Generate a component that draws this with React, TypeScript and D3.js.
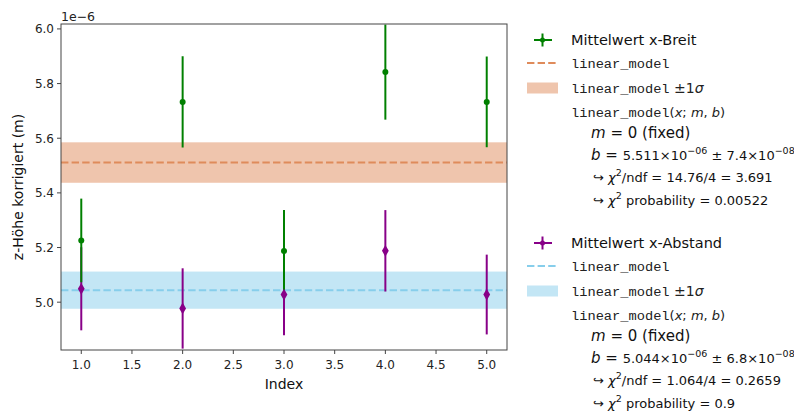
import React from "react";
import * as d3 from "d3";

// values in units of 1e-6 m
const index = [1, 2, 3, 4, 5];
const breit = [5.226, 5.733, 5.187, 5.842, 5.733];
const breitErr = [0.153, 0.167, 0.15, 0.174, 0.166];
const abstand = [5.049, 4.977, 5.028, 5.188, 5.028];
const abstandErr = [0.152, 0.147, 0.149, 0.149, 0.146];
const fitB = [5.511, 5.044];
const fitSigma = [0.074, 0.068];
const yTicks = [5.0, 5.2, 5.4, 5.6, 5.8, 6.0];
const xTicks = [1.0, 1.5, 2.0, 2.5, 3.0, 3.5, 4.0, 4.5, 5.0];

const W = 794, H = 414;
const left = 61, right = 507, top = 24, bottom = 350;
const sans = "DejaVu Sans, sans-serif";
const mono = "Liberation Mono, DejaVu Sans Mono, monospace";

const GREEN = "#008000";
const PURPLE = "#880088";
const ORANGE = "#df8b5b";
const BLUE = "#87ceeb";

const x = d3.scaleLinear().domain([0.8, 5.2]).range([left, right]);
const y = d3.scaleLinear().domain([4.825, 6.018]).range([bottom, top]);

function Legend({ y0, color, lineColor, label, b, sig, chi, prob }: any) {
  const cx = 542.5;
  const row = (i: number) => y0 + i;
  return (
    <g>
      <line x1={534} x2={552} y1={row(0)} y2={row(0)} stroke={color} strokeWidth={2} />
      <line x1={cx} x2={cx} y1={row(0) - 6.5} y2={row(0) + 6.5} stroke={color} strokeWidth={2} />
      <circle cx={cx} cy={row(0)} r={2.5} fill={color} />
      <text x={571} y={row(0) + 5} fontFamily={sans} fontSize={14.5} fill="#111">{label}</text>

      <line x1={527} x2={558} y1={row(23)} y2={row(23)} stroke={lineColor} strokeWidth={2} strokeDasharray="7.4,3.2" />
      <text x={571} y={row(23) + 4.5} fontFamily={mono} fontSize={13.7} fill="#222">linear_model</text>

      <rect x={527} y={row(48) - 5.5} width={31} height={11} fill={lineColor} fillOpacity={0.5} />
      <text x={571} y={row(48) + 4.5} fontFamily={mono} fontSize={13.7} fill="#222">
        linear_model<tspan fontFamily={sans} fontSize={14}> ±1</tspan>
        <tspan fontFamily={sans} fontSize={14} fontStyle="italic">σ</tspan>
      </text>

      <text x={571} y={row(72) + 4.5} fontFamily={mono} fontSize={13.7} fill="#222">
        linear_model<tspan fontFamily={sans} fontSize={13}>(</tspan>
        <tspan fontFamily={sans} fontSize={13} fontStyle="italic">x</tspan>
        <tspan fontFamily={sans} fontSize={13}>; </tspan>
        <tspan fontFamily={sans} fontSize={13} fontStyle="italic">m</tspan>
        <tspan fontFamily={sans} fontSize={13}>, </tspan>
        <tspan fontFamily={sans} fontSize={13} fontStyle="italic">b</tspan>
        <tspan fontFamily={sans} fontSize={13}>)</tspan>
      </text>

      <text x={591} y={row(93) + 5} fontFamily={sans} fontSize={15} fill="#111">
        <tspan fontStyle="italic">m</tspan> = 0 (fixed)
      </text>

      <text x={591} y={row(115) + 5} fontFamily={sans} fontSize={13} fill="#111">
        <tspan fontStyle="italic" fontSize={15}>b</tspan>
        <tspan fontSize={15}> = </tspan>
        {b.toFixed(3)}×10<tspan dy={-6} fontSize={9.5}>−06</tspan>
        <tspan dy={6}> ± </tspan>
        {sig.toFixed(1)}×10<tspan dy={-6} fontSize={9.5}>−08</tspan>
      </text>

      <text x={593} y={row(137) + 5} fontFamily={sans} fontSize={13} fill="#111">
        ↪ <tspan fontStyle="italic">χ</tspan>
        <tspan dy={-6} fontSize={9.5}>2</tspan>
        <tspan dy={6}>/ndf = {chi}</tspan>
      </text>

      <text x={593} y={row(160) + 5} fontFamily={sans} fontSize={13} fill="#111">
        ↪ <tspan fontStyle="italic">χ</tspan>
        <tspan dy={-6} fontSize={9.5}>2</tspan>
        <tspan dy={6}> probability = {prob}</tspan>
      </text>
    </g>
  );
}

export default function App() {
  const series = [
    { vals: breit, errs: breitErr, color: GREEN, marker: "circle" },
    { vals: abstand, errs: abstandErr, color: PURPLE, marker: "diamond" },
  ];
  const fits = [
    { b: fitB[0], s: fitSigma[0], color: ORANGE },
    { b: fitB[1], s: fitSigma[1], color: BLUE },
  ];
  const diamond = d3.symbol().type(d3.symbolDiamond).size(40)();
  return (
    <svg width={W} height={H} style={{ position: "absolute", left: 0, top: 0, background: "#fff" }}>
      <defs>
        <clipPath id="plot">
          <rect x={left} y={top} width={right - left} height={bottom - top} />
        </clipPath>
      </defs>
      <g clipPath="url(#plot)">
        {fits.map((f, i) => (
          <g key={i}>
            <rect x={left} width={right - left} y={y(f.b + f.s)} height={y(f.b - f.s) - y(f.b + f.s)} fill={f.color} fillOpacity={0.5} />
            <line x1={left} x2={right} y1={y(f.b)} y2={y(f.b)} stroke={f.color} strokeWidth={2} strokeDasharray="7.4,3.2" />
          </g>
        ))}
        {[series[1], series[0]].map((s, si) =>
          index.map((xi, i) => (
            <line key={si + "-" + i} x1={x(xi)} x2={x(xi)} y1={y(s.vals[i] - s.errs[i])} y2={y(s.vals[i] + s.errs[i])} stroke={s.color} strokeWidth={2} />
          ))
        )}
        {series.map((s, si) =>
          index.map((xi, i) =>
            s.marker === "circle" ? (
              <circle key={"m" + si + i} cx={x(xi)} cy={y(s.vals[i])} r={3} fill={s.color} />
            ) : (
              <path key={"m" + si + i} d={diamond as string} transform={`translate(${x(xi)},${y(s.vals[i])})`} fill={s.color} />
            )
          )
        )}
      </g>
      <rect x={left} y={top} width={right - left} height={bottom - top} fill="none" stroke="#444" strokeWidth={1} />

      {yTicks.map((t) => (
        <g key={t}>
          <line x1={left - 4} x2={left} y1={y(t)} y2={y(t)} stroke="#444" />
          <text x={left - 7} y={y(t) + 4.5} textAnchor="end" fontFamily={sans} fontSize={12} fill="#222">{t.toFixed(1)}</text>
        </g>
      ))}
      {xTicks.map((t) => (
        <g key={t}>
          <line x1={x(t)} x2={x(t)} y1={bottom} y2={bottom + 4} stroke="#444" />
          <text x={x(t)} y={bottom + 19} textAnchor="middle" fontFamily={sans} fontSize={12} fill="#222">{t.toFixed(1)}</text>
        </g>
      ))}
      <text x={left} y={top - 3} fontFamily={sans} fontSize={12.5} fill="#222">1e−6</text>
      <text x={(left + right) / 2} y={389} textAnchor="middle" fontFamily={sans} fontSize={14} fill="#111">Index</text>
      <text transform={`translate(23,${(top + bottom) / 2}) rotate(-90)`} textAnchor="middle" fontFamily={sans} fontSize={14} fill="#111">
        z-Höhe korrigiert (m)
      </text>

      <Legend y0={40} color={GREEN} lineColor={ORANGE} label="Mittelwert x-Breit" b={fitB[0]} sig={fitSigma[0] * 100}
        chi="14.76/4 = 3.691" prob="0.00522" />
      <Legend y0={243} color={PURPLE} lineColor={BLUE} label="Mittelwert x-Abstand" b={fitB[1]} sig={fitSigma[1] * 100}
        chi="1.064/4 = 0.2659" prob="0.9" />
    </svg>
  );
}
